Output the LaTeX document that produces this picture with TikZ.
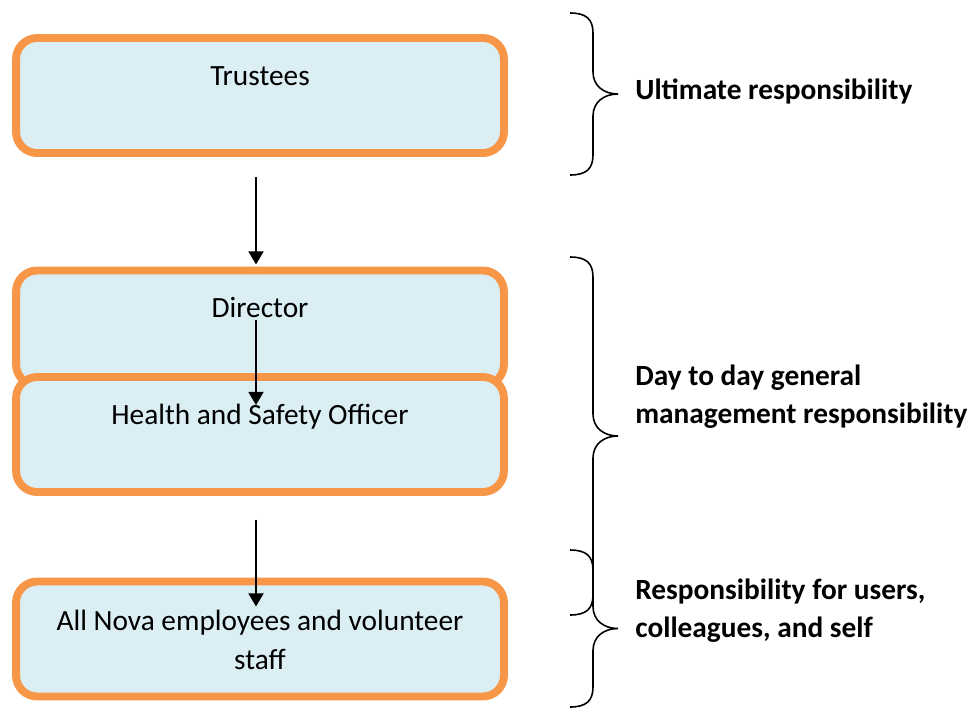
\documentclass[tikz,border=0pt]{standalone}
\usepackage{fontspec}
\setmainfont{Carlito}
\usetikzlibrary{arrows.meta}
\definecolor{boxorange}{HTML}{F79646}
\definecolor{boxblue}{HTML}{DAEEF3}
\tikzset{
  box/.style={draw=boxorange, fill=boxblue, line width=4.5pt, rounded corners=12pt,
    minimum width=9.76cm, minimum height=2.3cm, outer sep=0pt, inner sep=0pt},
  boxtext/.style={inner sep=0pt, align=center, font=\fontsize{16.7}{21.8}\selectfont},
  resp/.style={inner sep=0pt, anchor=west, align=left, font=\fontsize{16.7}{21.5}\selectfont\bfseries},
  arr/.style={line width=1.2pt, -{Triangle[width=8.5pt,length=7.5pt]}},
  curly/.style={line width=0.9pt}
}
\begin{document}
\begin{tikzpicture}[x=0.02cm,y=-0.02cm]
\useasboundingbox (0,0) rectangle (970,711);

% boxes and their texts
\node[box] (trustees) at (260,95.5) {};
\node[boxtext] (trustees-t) at (260,76) {Trustees};
\node[box] (director) at (260,328) {};
\node[boxtext] (director-t) at (260,308) {Director};
\node[box] (hso) at (260,434.5) {};
\node[boxtext] (hso-t) at (260,417) {Health and Safety Officer};
\node[box] (staff) at (260,639) {};
\node[boxtext] (staff-t) at (260,640) {All Nova employees and volunteer\\staff};

% arrows
\draw[arr] ([xshift=-0.08cm,yshift=-0.48cm]trustees.south) -- ([xshift=-0.08cm,yshift=0.12cm]director.north);
\draw[arr] ([xshift=-0.08cm,yshift=-0.98cm]director.north) -- ([xshift=-0.08cm,yshift=-0.56cm]hso.north);
\draw[arr] ([xshift=-0.08cm,yshift=-0.56cm]hso.south) -- ([xshift=-0.08cm,yshift=-0.5cm]staff.north);

% braces
\foreach \t/\b in {13/175,257/615,550/707}
  \draw[curly] (570,\t) .. controls (586,\t) and (593,{\t+6}) .. (593,{\t+20})
    -- (593,{(\t+\b)/2-22}) .. controls (593,{(\t+\b)/2-8}) and (604,{(\t+\b)/2}) .. (618,{(\t+\b)/2})
    .. controls (604,{(\t+\b)/2}) and (593,{(\t+\b)/2+8}) .. (593,{(\t+\b)/2+22})
    -- (593,{\b-20}) .. controls (593,{\b-6}) and (586,\b) .. (570,\b);

% responsibility labels
\node[resp] (ultimate) at (635,91) {Ultimate responsibility};
\node[resp] (daytoday) at (635,397) {Day to day general\\management responsibility};
\node[resp] (users) at (635,611) {Responsibility for users,\\colleagues, and self};
\end{tikzpicture}
\end{document}
